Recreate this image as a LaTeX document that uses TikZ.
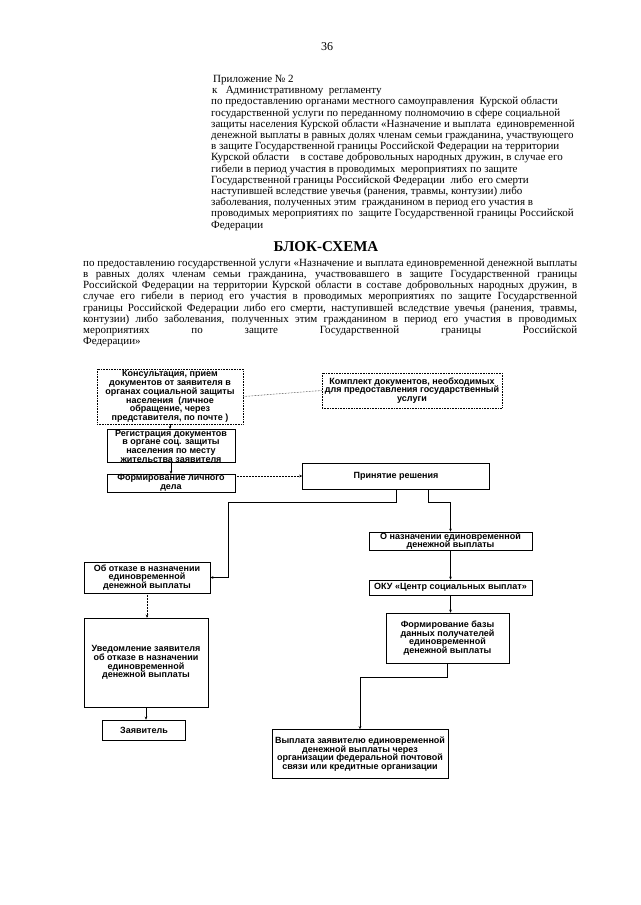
\documentclass[tikz,border=0pt]{standalone}
\usepackage{fontspec}
\setmainfont{Liberation Serif}
\newfontfamily\boxfont{Liberation Sans}
\usetikzlibrary{positioning,arrows.meta,calc}

\begin{document}
\begin{tikzpicture}[x=1pt, y=-1pt,
  box/.style={draw, line width=0.6pt, inner sep=0.5pt, align=center,
              font=\boxfont\bfseries\fontsize{9}{8.7}\selectfont},
  dotbox/.style={box, densely dotted},
  flow/.style={-{Stealth[length=3pt, width=2.6pt]}, line width=0.5pt},
  dotflow/.style={flow, densely dotted},
  body/.style={inner sep=0pt, anchor=north west, font=\fontsize{11}{11.2}\selectfont}]
\fill[white] (0,0) rectangle (640,905);
\useasboundingbox (0,0) rectangle (640,905);

% header and title
\node[font=\fontsize{12}{14}\selectfont] (pnum) at (327,47) {36};
\node[body, align=left] (appx) at (211,75) {\hspace{2pt}Приложение № 2\\
\hspace{1pt}к \ \ Административному \ регламенту\\
по предоставлению органами местного самоуправления \ Курской области\\
государственной услуги по переданному полномочию в сфере социальной\\
защиты населения Курской области «Назначение и выплата \ единовременной\\
денежной выплаты в равных долях членам семьи гражданина, участвующего\\
в защите Государственной границы Российской Федерации на территории\\
Курской области \ \ \ в составе добровольных народных дружин, в случае его\\
гибели в период участия в проводимых \ мероприятиях по защите\\
Государственной границы Российской Федерации \ либо \ его смерти\\
наступившей вследствие увечья (ранения, травмы, контузии) либо\\
заболевания, полученных этим \ гражданином в период его участия в\\
проводимых мероприятиях по \ защите Государственной границы Российской\\
Федерации};
\node[font=\fontsize{15}{17}\selectfont\bfseries] (title) at (326,247) {БЛОК-СХЕМА};
\node[body, text width=494pt, align=justify] (intro) at (83,258.5) {\hyphenpenalty=10000\exhyphenpenalty=10000
по предоставлению государственной услуги «Назначение и выплата единовременной денежной выплаты\linebreak
в равных долях членам семьи гражданина, участвовавшего в защите Государственной границы\linebreak
Российской Федерации на территории Курской области в составе добровольных народных дружин, в\linebreak
случае его гибели в период его участия в проводимых мероприятиях по защите Государственной\linebreak
границы Российской Федерации либо его смерти, наступившей вследствие увечья (ранения, травмы,\linebreak
контузии) либо заболевания, полученных этим гражданином в период его участия в проводимых\linebreak
мероприятиях по защите Государственной границы Российской\linebreak
Федерации»};

% boxes
\node[dotbox, minimum width=146pt, minimum height=55pt] (cons) at (170,396.5) {Консультация, прием\\документов от заявителя в\\органах социальной защиты\\населения \ (личное\\обращение, через\\представителя, по почте )};
\node[dotbox, minimum width=180pt, minimum height=35pt] (kompl) at (412,390.5) {Комплект документов, необходимых\\для предоставления государственный\\услуги};
\node[box, minimum width=128pt, minimum height=32pt] (reg) at (171,446) {Регистрация документов\\в органе соц. защиты\\населения по месту\\жительства заявителя};
\node[box, minimum width=128pt, minimum height=16pt] (delo) at (171,483) {Формирование личного\\дела};
\node[box, minimum width=187pt, minimum height=26pt] (resh) at (396,476) {Принятие решения};
\node[box, minimum width=163pt, minimum height=16pt] (nazn) at (450.5,541) {О назначении единовременной\\денежной выплаты};
\node[box, minimum width=163pt, minimum height=15pt] (oku) at (450.5,587.5) {ОКУ «Центр социальных выплат»};
\node[box, minimum width=123pt, minimum height=50pt] (baza) at (447.5,638) {Формирование базы\\данных получателей\\единовременной\\денежной выплаты};
\node[box, minimum width=176pt, minimum height=49pt] (vypl) at (360,754) {Выплата заявителю единовременной\\денежной выплаты через\\организации федеральной почтовой\\связи или кредитные организации};
\node[box, minimum width=126pt, minimum height=31pt] (otkaz) at (147,577.5) {Об отказе в назначении\\единовременной\\денежной выплаты};
\node[box, minimum width=124pt, minimum height=89pt] (uved) at (146,662.5) {Уведомление заявителя\\об отказе в назначении\\единовременной\\денежной выплаты};
\node[box, minimum width=83pt, minimum height=20pt] (zayav) at (144,730) {Заявитель};

% connectors
\draw[densely dotted, line width=0.5pt] (cons.east) -- (kompl.west);
\draw[flow] (cons.south) -- (cons.south |- reg.north);
\draw[flow] (reg.south) -- (reg.south |- delo.north);
\draw[dotflow] (resh.west -| delo.east) -- (resh.west);
\draw[flow] (resh.south) -- ++(0,13) -| ([xshift=18pt]otkaz.east) -- (otkaz.east);
\draw[flow] ([xshift=32pt]resh.south) -- ++(0,13) -| (nazn.north);
\draw[flow] (nazn.south) -- (oku.north);
\draw[flow] (oku.south) -- (oku.south |- baza.north);
\draw[flow] (baza.south) -- ++(0,14) -| (vypl.north);
\draw[dotflow] (otkaz.south) -- (otkaz.south |- uved.north);
\draw[flow] (uved.south) -- (uved.south |- zayav.north);
\end{tikzpicture}
\end{document}
